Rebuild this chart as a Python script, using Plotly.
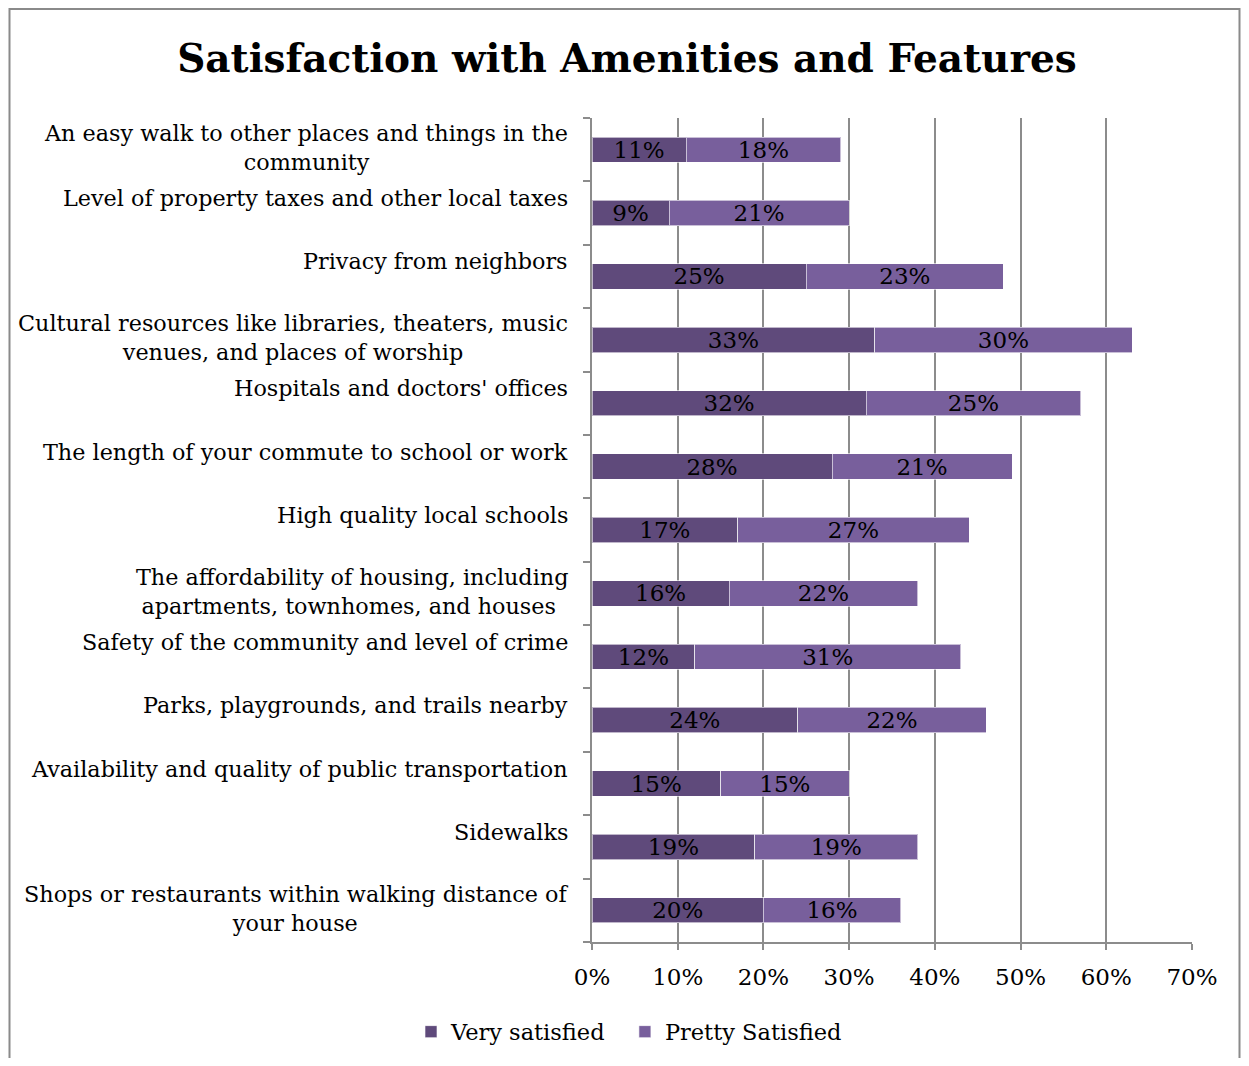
import plotly.graph_objects as go

categories = [
    "An easy walk to other places and things in the<br>community",
    "Level of property taxes and other local taxes",
    "Privacy from neighbors",
    "Cultural resources like libraries, theaters, music<br>venues, and places of worship",
    "Hospitals and doctors' offices",
    "The length of your commute to school or work",
    "High quality local schools",
    "The affordability of housing, including<br>apartments, townhomes, and houses ",
    "Safety of the community and level of crime",
    "Parks, playgrounds, and trails nearby",
    "Availability and quality of public transportation",
    "Sidewalks",
    "Shops or restaurants within walking distance of<br>your house",
]
very_satisfied = [11, 9, 25, 33, 32, 28, 17, 16, 12, 24, 15, 19, 20]
pretty_satisfied = [18, 21, 23, 30, 25, 21, 27, 22, 31, 22, 15, 19, 16]
x_ticks = [0, 10, 20, 30, 40, 50, 60, 70]
x_tick_labels = [f"{v}%" for v in x_ticks]

FONT = "DejaVu Serif"
C_VERY = "#5F4A7B"
C_PRETTY = "#785F9C"
GRID = "#8C8C8C"

ids = list(range(len(categories)))

fig = go.Figure()
fig.add_trace(go.Bar(
    y=ids, x=very_satisfied, orientation="h", name="Very satisfied\u00a0\u00a0",
    marker=dict(color=C_VERY, line=dict(color="rgba(255,255,255,0.6)", width=1)),
    text=[f"{v}%" for v in very_satisfied], textposition="inside",
    insidetextanchor="middle", textfont=dict(color="black", size=23, family=FONT),
))
fig.add_trace(go.Bar(
    y=ids, x=pretty_satisfied, orientation="h", name="Pretty Satisfied",
    marker=dict(color=C_PRETTY, line=dict(color="rgba(255,255,255,0.6)", width=1)),
    text=[f"{v}%" for v in pretty_satisfied], textposition="inside",
    insidetextanchor="middle", textfont=dict(color="black", size=23, family=FONT),
))

# category labels as centered multi-line annotations
for i, lab in enumerate(categories):
    two = "<br>" in lab
    fig.add_annotation(
        x=0, xref="paper", y=i, yref="y", text=lab, showarrow=False,
        xanchor="right", yanchor="middle", align="center",
        xshift=-22, yshift=(2 if two else 15),
        font=dict(family=FONT, size=22.3, color="black"),
    )

OFF = 8  # page body margin
W, H = 1249 - 2 * OFF, 1066 - 2 * OFF
L, T = 592 - OFF, 118 - OFF
PW, PH = 600, 824
def fx(x):
    # figure pixel -> paper
    return (x - L) / PW
def fy(y):
    return 1 - (y - T) / PH

fig.add_shape(type="rect", xref="paper", yref="paper",
              x0=fx(1.5), x1=fx(W - 1.5), y0=fy(H + 20), y1=fy(1),
              line=dict(color="#8A8A8A", width=2), fillcolor="rgba(0,0,0,0)", layer="below")

fig.update_layout(
    width=W, height=H,
    barmode="stack", bargap=0.6,
    paper_bgcolor="white", plot_bgcolor="white",
    margin=dict(l=L, r=W - L - PW, t=T, b=H - T - PH, pad=0, autoexpand=False),
    title=dict(text="<b>Satisfaction with Amenities and Features</b>",
               x=(627 - OFF) / W, xanchor="center", y=1 - (58 - OFF) / H, yanchor="middle",
               font=dict(family=FONT, size=39, color="black")),
    font=dict(family=FONT, size=22, color="black"),
    uniformtext=dict(mode="show", minsize=23),
    showlegend=True,
    legend=dict(orientation="h", x=fx(629 - OFF), xanchor="center", y=fy(1032 - OFF), yanchor="middle",
                font=dict(family=FONT, size=22.5, color="black"), itemwidth=30,
                traceorder="normal"),
    xaxis=dict(range=[0, 70], tickvals=x_ticks, ticktext=x_tick_labels,
               showgrid=True, gridcolor=GRID, gridwidth=1.5,
               showline=True, linecolor=GRID, linewidth=1.5,
               ticks="outside", ticklen=6, tickcolor=GRID, tickwidth=1.5,
               ticklabelstandoff=8,
               tickfont=dict(family=FONT, size=23, color="black"), zeroline=False),
    yaxis=dict(type="linear", range=[len(categories) - 0.5, -0.5], showticklabels=False,
               tickvals=[i - 0.5 for i in range(len(categories) + 1)],
               showgrid=False, showline=True, linecolor=GRID, linewidth=1.5,
               ticks="outside", ticklen=7, tickcolor=GRID, tickwidth=1.5, zeroline=False),
)

fig.write_html("out.html")
